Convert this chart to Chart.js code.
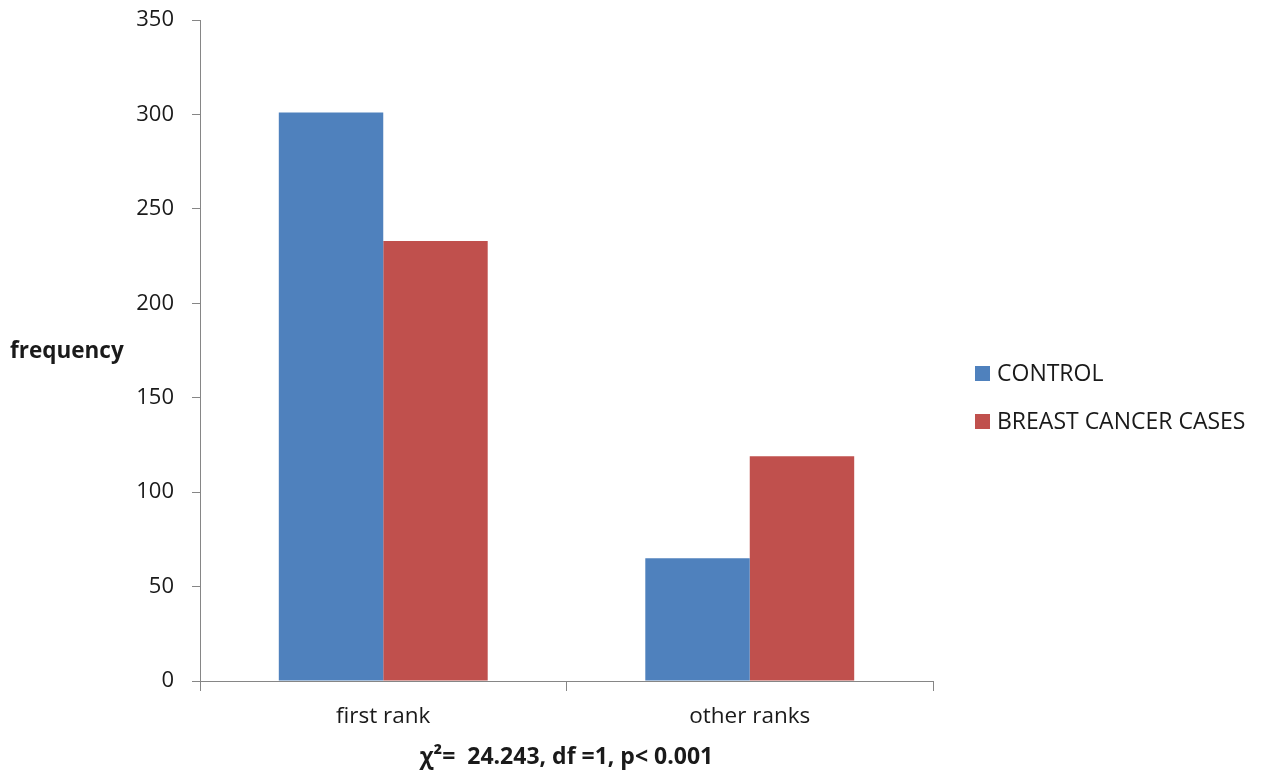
<!DOCTYPE html>
<html>
<head>
<meta charset="utf-8">
<script src="https://cdn.jsdelivr.net/npm/chart.js@4/dist/chart.umd.min.js"></script>
<style>
  html, body { margin: 0; padding: 0; background: #ffffff; }
  #wrap { width: 1265px; height: 775px; position: relative; }
</style>
</head>
<body>
<div id="wrap"><canvas id="chart" width="1265" height="775"></canvas></div>
<script>
// Rank categories and frequencies per group
const categories = ['first rank', 'other ranks'];
const controlValues = [301, 65];
const caseValues = [233, 119];
const seriesNames = ['CONTROL', 'BREAST CANCER CASES'];
const yTicks = [0, 50, 100, 150, 200, 250, 300, 350];
const yAxisLabel = 'frequency';
const statsLine = 'χ²=  24.243, df =1, p< 0.001';

const FONT = '"Open Sans", "Liberation Sans", sans-serif';
const AXIS_GREY = '#868686';
const TEXT = '#1a1a1a';

// Side labels: horizontal y-axis caption and a stacked legend at the right
const sideText = {
  id: 'sideText',
  afterDraw(chart) {
    const ctx = chart.ctx;
    ctx.save();
    ctx.fillStyle = TEXT;
    ctx.font = 'bold 22.5px ' + FONT;
    ctx.textAlign = 'left';
    ctx.textBaseline = 'middle';
    ctx.fillText(yAxisLabel, 10, 352);

    ctx.font = '23px ' + FONT;
    chart.data.datasets.forEach((ds, i) => {
      const cy = 374 + i * 48;
      ctx.fillStyle = ds.backgroundColor;
      ctx.fillRect(975, cy - 8, 15, 15);
      ctx.fillStyle = TEXT;
      ctx.fillText(ds.label, 997, cy);
    });
    ctx.restore();
  }
};

new Chart(document.getElementById('chart'), {
  type: 'bar',
  data: {
    labels: categories,
    datasets: [
      { label: seriesNames[0], data: controlValues, backgroundColor: '#4F81BD' },
      { label: seriesNames[1], data: caseValues, backgroundColor: '#C0504D' }
    ]
  },
  options: {
    responsive: false,
    animation: false,
    layout: { padding: { top: 20, right: 332, bottom: 0, left: 0 } },
    datasets: { bar: { categoryPercentage: 0.57, barPercentage: 1.0 } },
    plugins: {
      legend: { display: false },
      tooltip: { enabled: false }
    },
    scales: {
      x: {
        grid: { drawOnChartArea: false, color: AXIS_GREY, tickLength: 10, lineWidth: 1 },
        border: { color: AXIS_GREY, width: 1 },
        ticks: { color: TEXT, font: { family: FONT, size: 22.5 }, padding: 12 },
        title: {
          display: true,
          text: statsLine,
          color: TEXT,
          font: { family: FONT, size: 23, weight: 'bold' },
          padding: { top: 4, bottom: 4 }
        },
        afterFit(scale) { scale.height = 94; }
      },
      y: {
        min: 0,
        max: 350,
        afterBuildTicks(scale) { scale.ticks = yTicks.map(v => ({ value: v })); },
        grid: { drawOnChartArea: false, color: AXIS_GREY, tickLength: 8, lineWidth: 1 },
        border: { color: AXIS_GREY, width: 1 },
        ticks: { color: TEXT, font: { family: FONT, size: 22 }, padding: 18 },
        afterFit(scale) {
          scale.width = 200;
          scale.paddingTop = 0;
          scale.paddingBottom = 0;
        }
      }
    }
  },
  plugins: [sideText]
});
</script>
</body>
</html>
